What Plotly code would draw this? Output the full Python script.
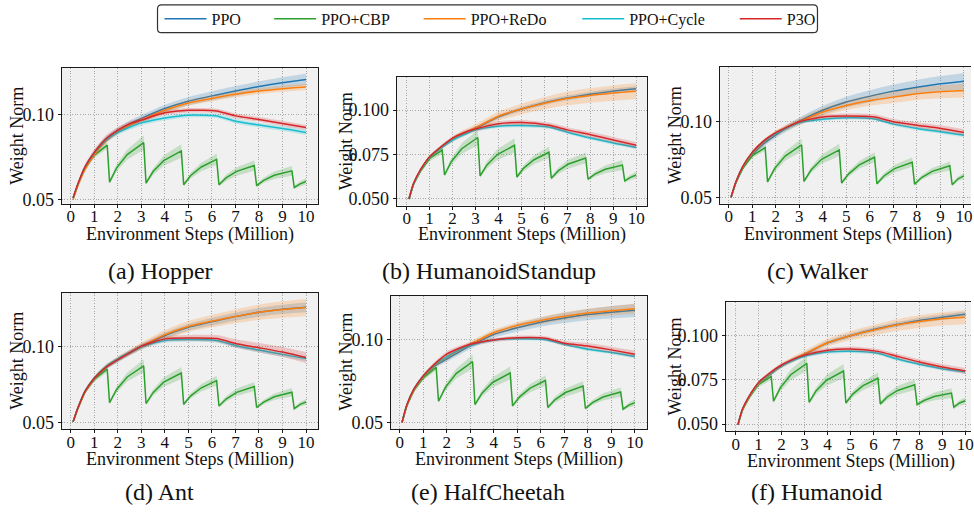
import plotly.graph_objects as go

W, H = 974, 514
FONT = "Liberation Serif"

SERIES = ["PPO", "PPO+CBP", "PPO+ReDo", "PPO+Cycle", "P3O"]
COLORS = {"PPO": "#1f77b4", "PPO+CBP": "#2ca02c", "PPO+ReDo": "#ff7f0e",
          "PPO+Cycle": "#17becf", "P3O": "#d62728"}
FILLS = {"PPO": "rgba(31,119,180,0.22)", "PPO+CBP": "rgba(44,160,44,0.22)",
         "PPO+ReDo": "rgba(255,127,14,0.22)", "PPO+Cycle": "rgba(23,190,207,0.22)",
         "P3O": "rgba(214,39,40,0.22)"}

X_TICKS = [0, 1, 2, 3, 4, 5, 6, 7, 8, 9, 10]
Y_TICKS_2 = [0.05, 0.10]
Y_TICKS_3 = [0.05, 0.075, 0.10]

# environment steps (million) for the smooth curves
X = [0.1, 0.3, 0.6, 1.0, 1.5, 2.0, 2.5, 3.0, 4.0, 5.0, 6.2, 7.0, 8.0, 9.0, 10.0]
# environment steps for PPO+CBP (sawtooth resets)
CBP_X = [0.1, 0.3, 0.6, 1.0, 1.55, 1.65, 1.95, 2.4, 3.1, 3.2, 3.5, 3.95, 4.7,
         4.8, 5.1, 5.55, 6.2, 6.3, 6.6, 7.05, 7.8, 7.9, 8.2, 8.65, 9.4, 9.5, 9.75, 10.0]
CBP_SD = [0.0004, 0.0008, 0.0012, 0.0015, 0.002, 0.001, 0.002, 0.003, 0.0042, 0.001,
          0.002, 0.003, 0.004, 0.001, 0.0018, 0.0025, 0.0032, 0.001, 0.0018, 0.0025,
          0.003, 0.001, 0.0015, 0.0022, 0.0028, 0.001, 0.0015, 0.002]

# (a) Hopper
A_PPO = [0.051, 0.0588, 0.0685, 0.0772, 0.0855, 0.0905, 0.0945, 0.0977, 0.1035, 0.1078, 0.1115, 0.1138, 0.1165, 0.1187, 0.1206]
A_PPO_SD = [0.0003, 0.0008, 0.0012, 0.0015, 0.0017, 0.0018, 0.0019, 0.002, 0.0022, 0.0025, 0.0027, 0.0029, 0.003, 0.0032, 0.0034]
A_REDO = [0.050, 0.0580, 0.0675, 0.0763, 0.0845, 0.0899, 0.0937, 0.0967, 0.1025, 0.1068, 0.1100, 0.1119, 0.1138, 0.1152, 0.1162]
A_REDO_SD = [0.0003, 0.0008, 0.0012, 0.0014, 0.0015, 0.0015, 0.0015, 0.0015, 0.0015, 0.0016, 0.0017, 0.0018, 0.0018, 0.0019, 0.002]
A_CYCLE = [0.051, 0.0590, 0.0690, 0.0775, 0.0850, 0.0895, 0.0925, 0.0951, 0.0980, 0.0996, 0.0992, 0.0961, 0.0938, 0.0918, 0.0895]
A_CYCLE_SD = [0.0003, 0.0008, 0.0012, 0.0015, 0.0015, 0.0015, 0.0015, 0.0015, 0.0014, 0.0013, 0.0013, 0.0014, 0.0014, 0.0015, 0.0015]
A_P3O = [0.051, 0.0592, 0.0692, 0.0778, 0.0858, 0.0909, 0.0945, 0.0967, 0.1010, 0.1025, 0.1021, 0.0992, 0.0971, 0.0947, 0.0924]
A_P3O_SD = [0.0003, 0.0008, 0.0015, 0.0018, 0.002, 0.0018, 0.0015, 0.0013, 0.0013, 0.0013, 0.0013, 0.0014, 0.0014, 0.0015, 0.0015]
A_CBP = [0.051, 0.0588, 0.0685, 0.0760, 0.0820, 0.0603, 0.0687, 0.0765, 0.0835, 0.0597, 0.0665, 0.0729, 0.0786, 0.0588,
         0.0642, 0.0692, 0.0737, 0.0588, 0.0628, 0.0666, 0.0700, 0.0582, 0.0613, 0.0643, 0.0669, 0.0572, 0.0593, 0.0607]

# (b) HumanoidStandup
B_PPO = [0.050, 0.0583, 0.0657, 0.0731, 0.0787, 0.0833, 0.0868, 0.0898, 0.0963, 0.1006, 0.1048, 0.1069, 0.1090, 0.1107, 0.1120]
B_PPO_SD = [0.0002, 0.0005, 0.0008, 0.001, 0.001, 0.001, 0.001, 0.001, 0.0011, 0.0012, 0.0013, 0.0014, 0.0014, 0.0015, 0.0015]
B_REDO = [0.050, 0.0585, 0.0660, 0.0735, 0.0790, 0.0836, 0.0871, 0.0901, 0.0966, 0.1006, 0.1045, 0.1065, 0.1083, 0.1096, 0.1106]
B_REDO_SD = [0.0002, 0.0005, 0.0008, 0.001, 0.0012, 0.0014, 0.0017, 0.002, 0.0025, 0.003, 0.0035, 0.0038, 0.0041, 0.0043, 0.0045]
B_CYCLE = [0.050, 0.0585, 0.0662, 0.0735, 0.0790, 0.0832, 0.0862, 0.0889, 0.0910, 0.0913, 0.0905, 0.0876, 0.0843, 0.0815, 0.0790]
B_CYCLE_SD = [0.0002, 0.0005, 0.0008, 0.0009, 0.001, 0.001, 0.001, 0.001, 0.001, 0.001, 0.001, 0.001, 0.001, 0.001, 0.001]
B_P3O = [0.050, 0.0588, 0.0665, 0.0738, 0.0794, 0.0843, 0.0873, 0.0894, 0.0924, 0.0930, 0.0915, 0.0889, 0.0862, 0.0832, 0.0802]
B_P3O_SD = [0.0002, 0.0005, 0.0008, 0.0009, 0.001, 0.001, 0.0012, 0.0013, 0.0014, 0.0015, 0.0015, 0.0015, 0.0016, 0.0017, 0.0018]
B_CBP = [0.050, 0.0583, 0.0657, 0.0728, 0.0775, 0.0635, 0.0711, 0.0783, 0.0846, 0.0630, 0.0692, 0.0750, 0.0802, 0.0624,
         0.0674, 0.0721, 0.0763, 0.0617, 0.0658, 0.0697, 0.0731, 0.0611, 0.0640, 0.0667, 0.0691, 0.0602, 0.0622, 0.0635]

# (c) Walker
C_PPO = [0.0504, 0.0597, 0.0694, 0.0780, 0.0856, 0.0910, 0.0958, 0.1000, 0.1071, 0.1125, 0.1170, 0.1196, 0.1222, 0.1244, 0.1261]
C_PPO_SD = [0.0003, 0.0008, 0.0012, 0.0015, 0.0018, 0.002, 0.0022, 0.0025, 0.003, 0.0035, 0.004, 0.0043, 0.0047, 0.005, 0.0054]
C_REDO = [0.0504, 0.0600, 0.0700, 0.0791, 0.0866, 0.0920, 0.0962, 0.0996, 0.1060, 0.1103, 0.1140, 0.1157, 0.1179, 0.1192, 0.1200]
C_REDO_SD = [0.0003, 0.0008, 0.0012, 0.0015, 0.0017, 0.0019, 0.002, 0.0022, 0.0026, 0.003, 0.0035, 0.0038, 0.0041, 0.0043, 0.0045]
C_CYCLE = [0.0504, 0.0602, 0.0705, 0.0795, 0.0870, 0.0920, 0.0958, 0.0991, 0.1013, 0.1022, 0.1015, 0.0981, 0.0953, 0.0931, 0.0909]
C_CYCLE_SD = [0.0003, 0.0006, 0.0009, 0.001, 0.001, 0.001, 0.001, 0.001, 0.001, 0.0011, 0.0011, 0.0012, 0.0012, 0.0012, 0.0012]
C_P3O = [0.0504, 0.0603, 0.0706, 0.0797, 0.0873, 0.0925, 0.0963, 0.0996, 0.1028, 0.1034, 0.1027, 0.0996, 0.0974, 0.0953, 0.0927]
C_P3O_SD = [0.0003, 0.0006, 0.0009, 0.001, 0.001, 0.0011, 0.0012, 0.0013, 0.0015, 0.0017, 0.0018, 0.0018, 0.0019, 0.002, 0.002]
C_CBP = [0.0504, 0.0597, 0.0694, 0.0775, 0.0828, 0.0604, 0.0691, 0.0773, 0.0845, 0.0608, 0.0682, 0.0752, 0.0813, 0.0597,
         0.0657, 0.0715, 0.0765, 0.0593, 0.0643, 0.0691, 0.0733, 0.0590, 0.0633, 0.0673, 0.0709, 0.0586, 0.0625, 0.0644]

# (d) Ant
D_PPO = [0.0506, 0.0593, 0.0701, 0.0788, 0.0864, 0.0913, 0.0958, 0.1000, 0.1074, 0.1128, 0.1172, 0.1199, 0.1227, 0.1247, 0.1260]
D_PPO_SD = [0.0003, 0.0008, 0.0012, 0.0014, 0.0015, 0.0016, 0.0017, 0.0018, 0.002, 0.0022, 0.0025, 0.0027, 0.0029, 0.003, 0.0032]
D_REDO = [0.0506, 0.0593, 0.0701, 0.0790, 0.0868, 0.0918, 0.0963, 0.1004, 0.1080, 0.1134, 0.1175, 0.1200, 0.1227, 0.1245, 0.1258]
D_REDO_SD = [0.0003, 0.0008, 0.0012, 0.0014, 0.0016, 0.0018, 0.002, 0.0023, 0.003, 0.0036, 0.0042, 0.0046, 0.005, 0.0054, 0.0057]
D_CYCLE = [0.0506, 0.0598, 0.0708, 0.0795, 0.0870, 0.0920, 0.0962, 0.1000, 0.1041, 0.1048, 0.1041, 0.1009, 0.0978, 0.0950, 0.0922]
D_CYCLE_SD = [0.0003, 0.0008, 0.0012, 0.0014, 0.0015, 0.0015, 0.0015, 0.0015, 0.0015, 0.0015, 0.0015, 0.0015, 0.0015, 0.0015, 0.0015]
D_P3O = [0.0506, 0.0596, 0.0705, 0.0792, 0.0866, 0.0915, 0.0960, 0.1004, 0.1052, 0.1058, 0.1054, 0.1022, 0.0994, 0.0965, 0.0929]
D_P3O_SD = [0.0003, 0.0008, 0.001, 0.0012, 0.0013, 0.0014, 0.0015, 0.0016, 0.0018, 0.002, 0.0023, 0.0027, 0.003, 0.0033, 0.0036]
D_CBP = [0.0506, 0.0593, 0.0701, 0.0785, 0.0853, 0.0632, 0.0719, 0.0801, 0.0874, 0.0626, 0.0698, 0.0767, 0.0827, 0.0621,
         0.0677, 0.0730, 0.0777, 0.0610, 0.0656, 0.0700, 0.0738, 0.0600, 0.0636, 0.0671, 0.0701, 0.0593, 0.0621, 0.0636]

# (e) HalfCheetah
E_PPO = [0.050, 0.0600, 0.0694, 0.0774, 0.0844, 0.0884, 0.0925, 0.0964, 0.1034, 0.1074, 0.1114, 0.1134, 0.1154, 0.1168, 0.1180]
E_PPO_SD = [0.0003, 0.0008, 0.0012, 0.0014, 0.0015, 0.0016, 0.0017, 0.0018, 0.002, 0.0024, 0.0028, 0.0031, 0.0034, 0.0037, 0.004]
E_REDO = [0.050, 0.0600, 0.0696, 0.0778, 0.0850, 0.0894, 0.0936, 0.0974, 0.1044, 0.1088, 0.1124, 0.1144, 0.1164, 0.1178, 0.1190]
E_REDO_SD = [0.0003, 0.0008, 0.0012, 0.0014, 0.0015, 0.0015, 0.0016, 0.0017, 0.0018, 0.002, 0.0022, 0.0024, 0.0026, 0.0028, 0.003]
E_CYCLE = [0.050, 0.0605, 0.0702, 0.0782, 0.0852, 0.0898, 0.0938, 0.0968, 0.1000, 0.1008, 0.1002, 0.0974, 0.0944, 0.0924, 0.0900]
E_CYCLE_SD = [0.0003, 0.0007, 0.001, 0.0011, 0.0011, 0.0011, 0.0011, 0.001, 0.001, 0.001, 0.001, 0.001, 0.001, 0.001, 0.0011]
E_P3O = [0.050, 0.0605, 0.0702, 0.0782, 0.0856, 0.0914, 0.0948, 0.0974, 0.1000, 0.1014, 0.1010, 0.0980, 0.0964, 0.0940, 0.0914]
E_P3O_SD = [0.0003, 0.0007, 0.001, 0.0012, 0.0014, 0.0016, 0.0015, 0.0013, 0.0012, 0.0012, 0.0013, 0.0015, 0.0017, 0.0019, 0.002]
E_CBP = [0.050, 0.0600, 0.0694, 0.0770, 0.0834, 0.0628, 0.0714, 0.0796, 0.0868, 0.0608, 0.0677, 0.0742, 0.0800, 0.0600,
         0.0655, 0.0708, 0.0754, 0.0590, 0.0637, 0.0681, 0.0720, 0.0584, 0.0620, 0.0654, 0.0684, 0.0580, 0.0605, 0.0620]

# (f) Humanoid
F_PPO = [0.0496, 0.0580, 0.0652, 0.0726, 0.0780, 0.0828, 0.0862, 0.0894, 0.0959, 0.1000, 0.1040, 0.1062, 0.1086, 0.1104, 0.1121]
F_PPO_SD = [0.0002, 0.0005, 0.0008, 0.001, 0.001, 0.001, 0.001, 0.0011, 0.0012, 0.0013, 0.0014, 0.0014, 0.0015, 0.0015, 0.0015]
F_REDO = [0.0496, 0.0580, 0.0654, 0.0729, 0.0784, 0.0831, 0.0866, 0.0897, 0.0960, 0.1000, 0.1037, 0.1060, 0.1080, 0.1095, 0.1104]
F_REDO_SD = [0.0002, 0.0005, 0.0008, 0.001, 0.0012, 0.0014, 0.0016, 0.0018, 0.0022, 0.0026, 0.003, 0.0033, 0.0036, 0.0038, 0.004]
F_CYCLE = [0.0496, 0.0584, 0.0658, 0.0732, 0.0786, 0.0829, 0.0860, 0.0884, 0.0907, 0.0912, 0.0901, 0.0869, 0.0838, 0.0813, 0.0795]
F_CYCLE_SD = [0.0002, 0.0005, 0.0008, 0.0009, 0.001, 0.001, 0.001, 0.001, 0.001, 0.001, 0.001, 0.001, 0.001, 0.001, 0.001]
F_P3O = [0.0496, 0.0586, 0.0661, 0.0735, 0.0790, 0.0834, 0.0866, 0.0890, 0.0918, 0.0925, 0.0911, 0.0884, 0.0851, 0.0823, 0.0800]
F_P3O_SD = [0.0002, 0.0005, 0.0008, 0.0009, 0.001, 0.001, 0.0011, 0.0012, 0.0013, 0.0014, 0.0014, 0.0015, 0.0015, 0.0016, 0.0017]
F_CBP = [0.0496, 0.0580, 0.0652, 0.0724, 0.0769, 0.0629, 0.0706, 0.0779, 0.0843, 0.0623, 0.0687, 0.0747, 0.0800, 0.0619,
         0.0669, 0.0717, 0.0759, 0.0614, 0.0653, 0.0690, 0.0722, 0.0610, 0.0633, 0.0656, 0.0675, 0.0595, 0.0619, 0.0632]

CAPTIONS = ["(a) Hopper", "(b) HumanoidStandup", "(c) Walker",
            "(d) Ant", "(e) HalfCheetah", "(f) Humanoid"]
X_TITLE = "Environment Steps (Million)"
Y_TITLE = "Weight Norm"

DATA = [
    {"PPO": (A_PPO, A_PPO_SD), "PPO+CBP": (A_CBP, CBP_SD), "PPO+ReDo": (A_REDO, A_REDO_SD),
     "PPO+Cycle": (A_CYCLE, A_CYCLE_SD), "P3O": (A_P3O, A_P3O_SD)},
    {"PPO": (B_PPO, B_PPO_SD), "PPO+CBP": (B_CBP, CBP_SD), "PPO+ReDo": (B_REDO, B_REDO_SD),
     "PPO+Cycle": (B_CYCLE, B_CYCLE_SD), "P3O": (B_P3O, B_P3O_SD)},
    {"PPO": (C_PPO, C_PPO_SD), "PPO+CBP": (C_CBP, CBP_SD), "PPO+ReDo": (C_REDO, C_REDO_SD),
     "PPO+Cycle": (C_CYCLE, C_CYCLE_SD), "P3O": (C_P3O, C_P3O_SD)},
    {"PPO": (D_PPO, D_PPO_SD), "PPO+CBP": (D_CBP, CBP_SD), "PPO+ReDo": (D_REDO, D_REDO_SD),
     "PPO+Cycle": (D_CYCLE, D_CYCLE_SD), "P3O": (D_P3O, D_P3O_SD)},
    {"PPO": (E_PPO, E_PPO_SD), "PPO+CBP": (E_CBP, CBP_SD), "PPO+ReDo": (E_REDO, E_REDO_SD),
     "PPO+Cycle": (E_CYCLE, E_CYCLE_SD), "P3O": (E_P3O, E_P3O_SD)},
    {"PPO": (F_PPO, F_PPO_SD), "PPO+CBP": (F_CBP, CBP_SD), "PPO+ReDo": (F_REDO, F_REDO_SD),
     "PPO+Cycle": (F_CYCLE, F_CYCLE_SD), "P3O": (F_P3O, F_P3O_SD)},
]

# layout of each panel in pixels: plot box, axis ranges, label positions
PANELS = [
    dict(box=(62, 69, 319, 206), xr=(-0.38, 10.51), yr=(0.0477, 0.1272), yt=Y_TICKS_2, fmt=".2f",
         right=True, xt=(190.5, 237), ytl=(17, 137.5), cap=(161, 274)),
    dict(box=(398, 78, 649, 208), xr=(-0.43, 10.47), yr=(0.0463, 0.1186), yt=Y_TICKS_3, fmt=".3f",
         right=True, xt=(523.5, 237), ytl=(347, 143), cap=(491, 274)),
    dict(box=(722, 68, 974, 206), xr=(-0.38, 10.30), yr=(0.0463, 0.1352), yt=Y_TICKS_2, fmt=".2f",
         right=False, xt=(850.5, 237), ytl=(677, 137), cap=(820, 274)),
    dict(box=(62, 296, 319, 434), xr=(-0.38, 10.51), yr=(0.0459, 0.1357), yt=Y_TICKS_2, fmt=".2f",
         right=True, xt=(190.5, 465), ytl=(17, 365), cap=(160, 498)),
    dict(box=(392, 299, 649, 434), xr=(-0.38, 10.52), yr=(0.0460, 0.1270), yt=Y_TICKS_2, fmt=".2f",
         right=True, xt=(520.5, 465), ytl=(347, 366), cap=(490, 498)),
    dict(box=(728, 306, 974, 436), xr=(-0.43, 10.25), yr=(0.0461, 0.1188), yt=Y_TICKS_3, fmt=".3f",
         right=False, xt=(853.5, 467), ytl=(677, 371), cap=(819, 498)),
]

LEGEND_X = {"PPO": 160, "PPO+CBP": 270, "PPO+ReDo": 420, "PPO+Cycle": 579, "P3O": 737}
LEGEND_Y = 19
LEGEND_BOX = (158, 5, 820, 33)


def fx(px):
    return px / W


def fy(py):
    return 1 - py / H


fig = go.Figure()
layout = {}
annotations = []

for i, (p, data) in enumerate(zip(PANELS, DATA)):
    n = "" if i == 0 else str(i + 1)
    xa, ya = "x" + n, "y" + n
    for k, name in enumerate(SERIES):
        mean, sd = data[name]
        xs = CBP_X if name == "PPO+CBP" else X
        shape = "linear" if name == "PPO+CBP" else "spline"
        sm = 0.6 if shape == "spline" else None
        upper = [m + s for m, s in zip(mean, sd)]
        lower = [m - s for m, s in zip(mean, sd)]
        fig.add_trace(go.Scatter(x=xs, y=upper, xaxis=xa, yaxis=ya, mode="lines",
                                 line=dict(width=0, shape=shape, smoothing=sm), showlegend=False,
                                 hoverinfo="skip"))
        fig.add_trace(go.Scatter(x=xs, y=lower, xaxis=xa, yaxis=ya, mode="lines",
                                 line=dict(width=0, shape=shape, smoothing=sm), fill="tonexty",
                                 fillcolor=FILLS[name], showlegend=False, hoverinfo="skip"))
        fig.add_trace(go.Scatter(x=xs, y=mean, xaxis=xa, yaxis=ya, mode="lines", name=name,
                                 line=dict(color=COLORS[name], width=1.5, shape=shape, smoothing=sm),
                                 showlegend=(i == 0),
                                 legend="legend" if k == 0 else "legend" + str(k + 1)))
    x0, y0, x1, y1 = p["box"]
    layout["xaxis" + n] = dict(
        domain=[fx(x0), fx(x1)], range=list(p["xr"]), anchor=ya,
        tickvals=X_TICKS, ticktext=[str(t) for t in X_TICKS],
        showgrid=True, gridcolor="#a8a8a8", griddash="1px,1.6px", gridwidth=1,
        showline=True, linecolor="#1a1a1a", linewidth=1.4, mirror=True,
        ticks="outside", ticklen=3, tickwidth=1, tickcolor="#1a1a1a",
        ticklabelstandoff=-6, ticklabeloverflow="allow",
        tickfont=dict(family=FONT, size=17, color="#111"), zeroline=False)
    layout["yaxis" + n] = dict(
        domain=[fy(y1), fy(y0)], range=list(p["yr"]), anchor=xa,
        tickvals=p["yt"], tickformat=p["fmt"],
        showgrid=True, gridcolor="#a8a8a8", griddash="1px,1.6px", gridwidth=1,
        showline=True, linecolor="#1a1a1a", linewidth=1.4, mirror=p["right"],
        ticks="outside", ticklen=3, tickwidth=1, tickcolor="#1a1a1a",
        tickfont=dict(family=FONT, size=18, color="#111"), zeroline=False)
    annotations.append(dict(text=X_TITLE, x=fx(p["xt"][0]), y=fy(p["xt"][1]),
                            xref="paper", yref="paper", showarrow=False,
                            xanchor="center", yanchor="middle",
                            font=dict(family=FONT, size=18, color="#111")))
    annotations.append(dict(text=Y_TITLE, x=fx(p["ytl"][0]), y=fy(p["ytl"][1]),
                            xref="paper", yref="paper", showarrow=False, textangle=-90,
                            xanchor="center", yanchor="middle",
                            font=dict(family=FONT, size=18, color="#111")))
    annotations.append(dict(text=CAPTIONS[i], x=fx(p["cap"][0]), y=fy(p["cap"][1]),
                            xref="paper", yref="paper", showarrow=False,
                            xanchor="center", yanchor="middle",
                            font=dict(family=FONT, size=24, color="#111")))

# one legend per entry, placed like the reference row
for k, name in enumerate(SERIES):
    key = "legend" if k == 0 else "legend" + str(k + 1)
    layout[key] = dict(x=fx(LEGEND_X[name]), y=fy(LEGEND_Y), xanchor="left", yanchor="middle",
                       orientation="h", bgcolor="rgba(0,0,0,0)", borderwidth=0,
                       itemwidth=42, font=dict(family=FONT, size=16, color="#111"))

bx0, by0, bx1, by1 = LEGEND_BOX
r = 4
path = (f"M{fx(bx0 + r)},{fy(by0)} L{fx(bx1 - r)},{fy(by0)} Q{fx(bx1)},{fy(by0)} {fx(bx1)},{fy(by0 + r)} "
        f"L{fx(bx1)},{fy(by1 - r)} Q{fx(bx1)},{fy(by1)} {fx(bx1 - r)},{fy(by1)} "
        f"L{fx(bx0 + r)},{fy(by1)} Q{fx(bx0)},{fy(by1)} {fx(bx0)},{fy(by1 - r)} "
        f"L{fx(bx0)},{fy(by0 + r)} Q{fx(bx0)},{fy(by0)} {fx(bx0 + r)},{fy(by0)} Z")

fig.update_layout(
    width=W, height=H, margin=dict(l=0, r=0, t=0, b=0),
    paper_bgcolor="white", plot_bgcolor="#f0f0f0",
    font=dict(family=FONT),
    annotations=annotations,
    shapes=[dict(type="path", path=path, xref="paper", yref="paper",
                 line=dict(color="#333", width=1.2), fillcolor="rgba(0,0,0,0)")],
    **layout)

fig.write_html("out.html")
